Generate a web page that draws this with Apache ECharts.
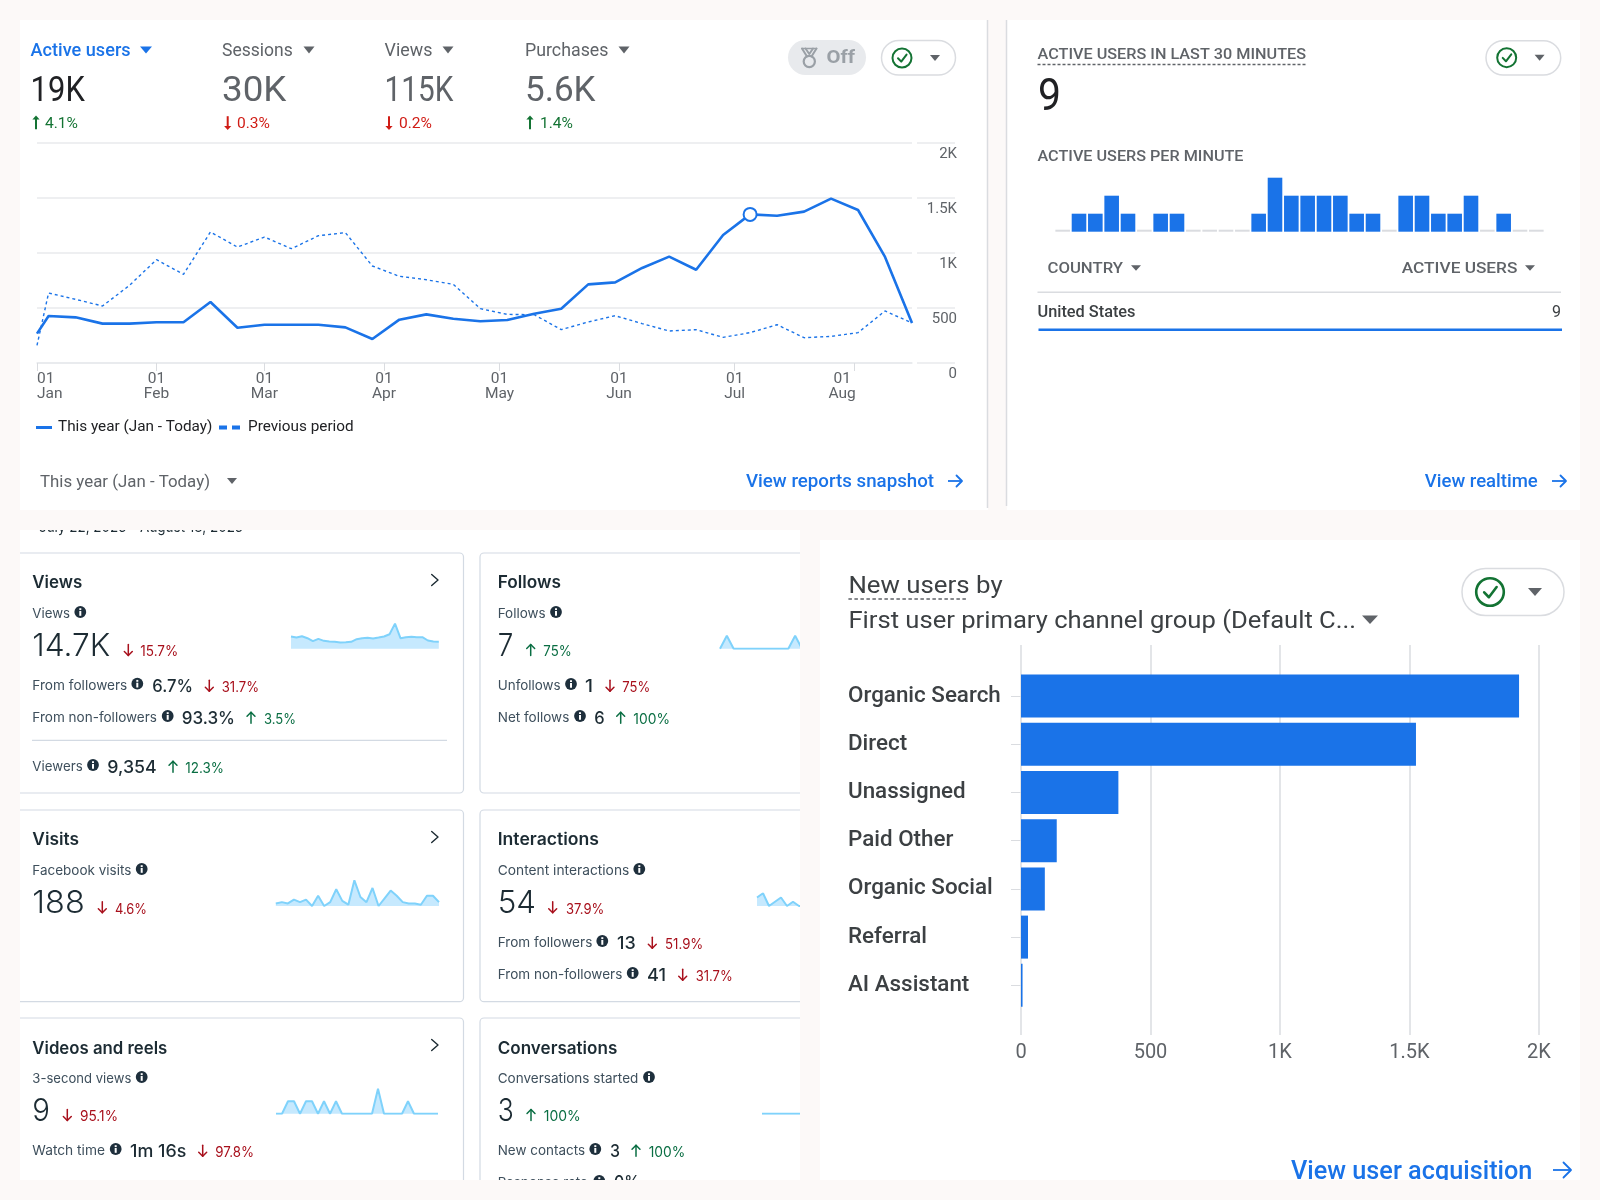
<!DOCTYPE html>
<html><head><meta charset="utf-8">
<style>html,body{margin:0;padding:0;background:#fcf9f8}#c{width:1600px;height:1200px}</style>
<script src="https://cdn.jsdelivr.net/npm/echarts@6/dist/echarts.min.js"></script>
</head><body><div id="c"></div>
<script>
// ---------- DATA ----------
const weekDates = ['2025-01-01','2025-01-04','2025-01-11','2025-01-18','2025-01-25','2025-02-01','2025-02-08','2025-02-15','2025-02-22','2025-03-01','2025-03-08','2025-03-15','2025-03-22','2025-03-29','2025-04-05','2025-04-12','2025-04-19','2025-04-26','2025-05-03','2025-05-10','2025-05-17','2025-05-24','2025-05-31','2025-06-07','2025-06-14','2025-06-21','2025-06-28','2025-07-05','2025-07-12','2025-07-19','2025-07-26','2025-08-02','2025-08-09','2025-08-16'];
const thisYear = [267,427,415,358,358,370,370,555,321,348,348,348,324,218,394,442,403,379,391,448,494,715,733,864,967,848,1164,1351,1339,1376,1494,1391,964,364];
const previousPeriod = [160,636,579,518,706,939,806,1191,1054,1145,1039,1157,1185,882,788,757,715,494,442,439,303,373,430,358,291,303,233,276,348,230,242,276,473,364];
const monthTicks = ['2025-01-01','2025-02-01','2025-03-01','2025-04-01','2025-05-01','2025-06-01','2025-07-01','2025-08-01'];
const monthDayLabels = ['01','01','01','01','01','01','01','01'];
const monthNames = ['Jan','Feb','Mar','Apr','May','Jun','Jul','Aug'];
const highlightDate = '2025-07-05';
const activeUsersPerMinute = [0,1,1,2,1,0,1,1,0,0,0,0,1,3,2,2,2,2,1,1,0,2,2,1,1,2,0,1,0,0];
const channels = ['Organic Search','Direct','Unassigned','Paid Other','Organic Social','Referral','AI Assistant'];
const newUsers = [1923,1525,376,138,92,27,6];
const viewsDaily = [648,595,665,560,403,525,420,385,368,333,350,368,508,560,578,543,595,648,770,1330,560,613,630,613,613,438,385,368];
const followsDaily = [0,1,0,0,0,0,0,0,0,0,0,1,0];
const visitsDaily = [2,3,2,5,3,5,0,8,0,3,13,4,1,20,7,3,14,0,6,12,8,3,2,2,1,8,8,3];
const interactionsDaily = [4,6,0,2,4,0,2,0,0];
const videoViewsDaily = [0,0,1,1,0,1,1,0,1,0,1,0,0,0,0,0,0,2,0,0,0,0,1,0,0,0,0,0];
const conversationsDaily = [0,0,0,0,0,0,0,0];
const kmLabel = v => v >= 1000 ? (v / 1000) + 'K' : String(v);
const dayNo = d => Date.parse(d + 'T00:00:00Z') / 86400000;

// ---------- STYLE ----------
const BLUE='#1a73e8', GREY='#5f6368', DARK='#202124', LINE='#e8eaed', LINE2='#dadce0', BG='#fcf9f8';
const G_UP='#137333', G_DN='#d01c15', M_UP='#0a6e43', M_DN='#a8101c', INK='#1c2b33', SUB='#3e4f5c', CARD='#d3dae3';
const SPK_L='#7fd2fb', SPK_F='#c6e9fe';
const RB='Roboto', IN='Inter';

// ---------- GRAPHIC HELPERS ----------
const gfx = [];
const mctx = document.createElement('canvas').getContext('2d');
function T(text,x,y,o={}){
  const size=o.size||14, weight=o.weight||400, fam=o.fam||RB, align=o.align||'left';
  const font=`${weight} ${size}px "${fam}", sans-serif`;
  const dy=o.dy===undefined?1+size*0.05:o.dy;
  let sx=1;
  if(o.w){ mctx.font=font; sx=o.w/mctx.measureText(text).width; }
  gfx.push({type:'text',x,y:y+dy,scaleX:sx,scaleY:1,silent:true,z:o.z||5,
    style:{text,x:0,y:0,font,fill:o.color||DARK,align,verticalAlign:'middle',textAlign:align,textVerticalAlign:'middle'}});
}
function R(x,y,w,h,fill,o={}){
  gfx.push({type:'rect',silent:true,z:o.z===undefined?-10:o.z,shape:{x,y,width:w,height:h,r:o.r||0},
    style:{fill:fill||'none',stroke:o.stroke||null,lineWidth:o.lw||1}});
}
function L(x1,y1,x2,y2,stroke,o={}){
  gfx.push({type:'line',silent:true,z:o.z||4,shape:{x1,y1,x2,y2},style:{stroke,lineWidth:o.lw||1,lineDash:o.dash||null}});
}
function P(points,stroke,o={}){
  gfx.push({type:'polyline',silent:true,z:o.z||5,shape:{points},style:{stroke,lineWidth:o.lw||1.5,fill:null,lineJoin:'round',lineCap:o.cap||'round'}});
}
function C(cx,cy,r,fill,o={}){
  gfx.push({type:'circle',silent:true,z:o.z||5,shape:{cx,cy,r},style:{fill:fill||'none',stroke:o.stroke||null,lineWidth:o.lw||1}});
}
function caret(cx,cy,w,h,color){
  gfx.push({type:'polygon',silent:true,z:5,shape:{points:[[cx-w/2,cy-h/2],[cx+w/2,cy-h/2],[cx,cy+h/2]]},style:{fill:color||GREY}});
}
function info(cx,cy){
  C(cx,cy,5.9,'#1e2f3c');
  gfx.push({type:'rect',silent:true,z:6,shape:{x:cx-1,y:cy-3.8,width:2,height:1.9},style:{fill:'#fff'}});
  gfx.push({type:'rect',silent:true,z:6,shape:{x:cx-1,y:cy-1,width:2,height:4.8},style:{fill:'#fff'}});
}
function deltaArrow(cx,cy,up,color,h,lw){
  const s=up?-1:1, hh=h/2, hw=h*0.36;
  P([[cx,cy-s*hh],[cx,cy+s*hh]],color,{lw});
  P([[cx-hw,cy+s*(hh-hw)],[cx,cy+s*hh],[cx+hw,cy+s*(hh-hw)]],color,{lw});
}
function gArrow(x,y,up,pct,xT,wT){
  const c=up?G_UP:G_DN, s=up?-1:1;
  P([[x,y-s*6.5],[x,y+s*5]],c,{lw:2,cap:'butt'});
  gfx.push({type:'polygon',silent:true,z:5,shape:{points:[[x-3.6,y+s*3.2],[x+3.6,y+s*3.2],[x,y+s*7.2]]},style:{fill:c}});
  T(pct,xT,y,{size:14.5,color:c,w:wT});
}
function pill(x,y,w,h,cx,cyy,r,caretX,cw,ch){
  R(x,y,w,h,'#fff',{stroke:LINE2,lw:1.5,r:h/2,z:3});
  C(cx,cyy,r,'none',{stroke:G_UP,lw:r>12?2.6:2});
  P([[cx-r*.42,cyy+r*.02],[cx-r*.08,cyy+r*.38],[cx+r*.48,cyy-r*.36]],G_UP,{lw:r>12?2.6:2});
  caret(caretX,cyy,cw,ch,GREY);
}
function rightArrow(x1,x2,y,h,color){
  P([[x1,y],[x2,y]],color,{lw:1.8,cap:'butt'});
  P([[x2-h,y-h],[x2,y],[x2-h,y+h]],color,{lw:1.8});
}
function chevron(x,y){ P([[x-3,y-5.5],[x+3.3,y],[x-3,y+5.5]],INK,{lw:1.4}); }

// ---------- PANELS ----------
R(20,20,968,490,'#fff');
R(1007,20,573,490,'#fff');
R(20,530,780,650,'#fff');
R(820,540,760,640,'#fff');
L(987.5,20,987.5,508,LINE2,{lw:1.5});
L(1006.5,20,1006.5,506,LINE2,{lw:1.5});

// ---------- TOP-LEFT KPI ----------
T('Active users',30.6,50,{size:17.5,color:BLUE,w:100,weight:500}); caret(146,50,12,7,BLUE);
T('Sessions',222,50,{size:17.5,color:GREY,w:70.7}); caret(309,50,11,7,GREY);
T('Views',384.6,50,{size:17.5,color:GREY,w:47.8}); caret(448,50,11,7,GREY);
T('Purchases',525,50,{size:17.5,color:GREY,w:83.4}); caret(624,50,11,7,GREY);
T('19K',30.6,89.3,{size:35,color:DARK,w:54.2});
T('30K',222,89.3,{size:35,color:GREY,w:64.4});
T('115K',384.6,89.3,{size:35,color:GREY,w:68.8});
T('5.6K',525,89.3,{size:35,color:GREY,w:70.6});
gArrow(36,122.7,true,'4.1%',45,33);
gArrow(227.7,122.7,false,'0.3%',237,33);
gArrow(389,122.7,false,'0.2%',399,33);
gArrow(530,122.7,true,'1.4%',540,33);
R(788,40,78,35,'#e8eaed',{r:17.5,z:3});
C(809.3,61.5,5.6,'none',{stroke:'#9aa0a6',lw:2.2});
P([[802,48.5],[807,56.5]],'#9aa0a6',{lw:2});
P([[816.5,48.5],[811.5,56.5]],'#9aa0a6',{lw:2});
P([[805.5,48.5],[809.3,54],[813,48.5]],'#9aa0a6',{lw:2});
P([[802,48.5],[816.5,48.5]],'#9aa0a6',{lw:1.6});
T('Off',826.5,56,{size:19,weight:700,color:'#9aa0a6',w:28.5});
pill(881.5,40.5,74,34.5,902,58,9.5,935,10,6);
T('This year (Jan - Today)',40,481,{size:17,color:GREY,w:170}); caret(232,481,10,6,GREY);
T('View reports snapshot',746,481,{size:18,weight:500,color:BLUE,w:188}); rightArrow(948,962,481,5.5,BLUE);

// ---------- REALTIME ----------
T('ACTIVE USERS IN LAST 30 MINUTES',1037.5,53,{size:15,weight:500,color:GREY,w:268.6});
L(1037.5,64.5,1306,64.5,GREY,{lw:1.3,dash:[3,2]});
pill(1486,40.7,74.7,34.3,1506.7,57.7,9.5,1539.6,10,6);
T('9',1038,95,{size:45,color:DARK,w:23});
T('ACTIVE USERS PER MINUTE',1037.5,155,{size:15,weight:500,color:GREY,w:206});
T('COUNTRY',1047.5,267.7,{size:15,weight:500,color:GREY,w:75.5}); caret(1136,268,10,5.5,GREY);
T('ACTIVE USERS',1401.8,267.7,{size:15,weight:500,color:GREY,w:115.6}); caret(1530,268,10,5.5,GREY);
L(1037.5,292.3,1561,292.3,LINE2,{lw:1.5});
T('United States',1037.5,310.7,{size:16,weight:500,color:'#3c4043',w:98});
T('9',1561,310.7,{size:16,color:'#3c4043',align:'right'});
L(1038.5,329.7,1562,329.7,BLUE,{lw:2.4});
T('View realtime',1424.8,481,{size:18,weight:500,color:BLUE,w:112.9}); rightArrow(1552,1566,481,5.5,BLUE);

// ---------- SOCIAL CARDS ----------
T('July 22, 2025 - August 18, 2025',39,527.5,{size:15,fam:IN,color:INK,w:204,dy:0});
[[553,240],[810,191.7],[1018,240]].forEach(([y,h])=>{
  R(8,y,455.5,h,null,{stroke:CARD,lw:1.2,r:4,z:2});
  R(480,y,330,h,null,{stroke:CARD,lw:1.2,r:4,z:2});
});
L(32,740.3,447,740.3,CARD,{lw:1.2});
const tit=(s,x,y,w)=>T(s,x,y,{size:17,weight:600,fam:IN,color:INK,w,dy:1.8});
const sub=(s,x,y,w)=>T(s,x,y,{size:13.5,fam:IN,color:SUB,w,dy:1});
const big=(s,x,y,w)=>T(s,x,y,{size:31,weight:300,fam:IN,color:INK,w,dy:2});
const mid=(s,x,y,w)=>T(s,x,y,{size:17.5,weight:500,fam:IN,color:INK,w,dy:1.2});
const dlt=(up,ax,s,x,y,w)=>{const c=up?M_UP:M_DN; deltaArrow(ax,y-1,up,c,11,1.5); T(s,x,y,{size:14,fam:IN,color:c,w,dy:1});};
// Views
tit('Views',32.3,581.3,50); chevron(434.7,580);
sub('Views',32.3,612.7,37.7); info(80.3,612);
big('14.7K',32.3,644.3,78); dlt(false,128.3,'15.7%',140.3,651,38);
sub('From followers',32.3,685,95); info(137.3,683.7); mid('6.7%',152.3,685.7,40.7); dlt(false,209.3,'31.7%',221.7,686.7,37.3);
sub('From non-followers',32.3,717,124.7); info(167.7,716); mid('93.3%',181.7,717.3,53.3); dlt(true,251,'3.5%',264,718.7,32);
sub('Viewers',32.3,766,50.4); info(93,765); mid('9,354',107.3,766.7,49.4); dlt(true,173,'12.3%',185.3,767.7,38.7);
// Visits
tit('Visits',32.3,838.3,46.7); chevron(434.7,837);
sub('Facebook visits',32.3,869.7,99); info(141.7,869);
big('188',32.3,901.7,52.4); dlt(false,102.3,'4.6%',115,908.3,32);
// Videos
tit('Videos and reels',32.3,1046.7,135); chevron(434.7,1045);
sub('3-second views',32.3,1077.7,99); info(141.7,1077);
big('9',32.3,1109.3,17.7); dlt(false,67.3,'95.1%',80,1116,38);
sub('Watch time',32.3,1150,72.7); info(115.7,1149); mid('1m 16s',130,1150.3,56.3); dlt(false,202.7,'97.8%',215.3,1151.7,38.7);
// Follows
tit('Follows',497.7,581.3,63.3);
sub('Follows',497.7,612.7,48); info(556,612);
big('7',497.7,644.3,15.6); dlt(true,530.7,'75%',543.3,651,28.4);
sub('Unfollows',497.7,685,63); info(571,684); mid('1',585,686,8); dlt(false,610,'75%',622.3,686.7,28);
sub('Net follows',497.7,717,71.6); info(580,716); mid('6',594.3,717.3,10.4); dlt(true,620.7,'100%',633.3,718.7,36.7);
// Interactions
tit('Interactions',497.7,838.3,101.3);
sub('Content interactions',497.7,869.7,131.6); info(639.3,869);
big('54',497.7,901.7,38.3); dlt(false,552.7,'37.9%',566,908.3,38.3);
sub('From followers',497.7,941.7,94.6); info(602.3,941); mid('13',617,942.3,18.7); dlt(false,652.3,'51.9%',665,943.7,38.3);
sub('From non-followers',497.7,973.7,124.6); info(632.7,973); mid('41',647,974.3,19); dlt(false,682.7,'31.7%',695.7,975.7,37);
// Conversations
tit('Conversations',497.7,1046.7,119.6);
sub('Conversations started',497.7,1077.7,140.6); info(649,1077);
big('3',497.7,1109.3,16); dlt(true,531,'100%',543.7,1116,37);
sub('New contacts',497.7,1150,87.3); info(595.3,1149); mid('3',610,1150.3,10); dlt(true,636,'100%',648.7,1151.7,36.6);
sub('Response rate',497.7,1182,90); info(599.3,1181); mid('0%',614,1182,26);

// ---------- NEW USERS HEADER ----------
T('New users by',848.4,584.7,{size:24,color:'#3c4043',w:154.2});
L(848.4,599,968,599,GREY,{lw:1.5,dash:[3.5,2.5]});
T('First user primary channel group (Default C...',848.4,619.7,{size:24,color:'#3c4043',w:507.6}); caret(1370,619.7,16,8.5,GREY);
pill(1462,568.5,102,47,1490,592,13.8,1535,14,8);
T('View user acquisition',1291,1170,{size:25,weight:500,color:BLUE,w:241.4}); rightArrow(1553,1571,1170,7.5,BLUE);

// Bands that crop the screenshot pieces
const Z=100;
R(0,0,20,1200,BG,{z:Z});
R(20,510,1560,20,BG,{z:Z});
R(800,530,20,670,BG,{z:Z});
R(0,1180,1600,20,BG,{z:Z});
R(1580,0,20,1200,BG,{z:Z});

// ---------- ECHARTS STRUCTURE ----------
const grid=[], xAxis=[], yAxis=[], series=[];
function addGrid(rect,x,y){
  const i=grid.length;
  grid.push(Object.assign({containLabel:false},rect));
  xAxis.push(Object.assign({gridIndex:i},x));
  yAxis.push(Object.assign({gridIndex:i},y));
  return i;
}
const monthDays=monthTicks.map(dayNo);
const lastMonth=monthDays.length-1;
// main line chart (x = day number)
const gMain=addGrid({left:37,top:143,width:875,height:220},
 {type:'value',min:dayNo(weekDates[0]),max:dayNo(weekDates[weekDates.length-1]),
  axisLine:{show:true,onZero:false,lineStyle:{color:LINE,width:1.5}},
  axisTick:{show:true,customValues:monthDays,length:8,lineStyle:{color:LINE2}},
  splitLine:{show:false},
  axisLabel:{customValues:monthDays,alignMinLabel:'left',
    formatter:(v)=>{const i=monthDays.indexOf(v), s=i===lastMonth?'end':'m';
      return `{${s}|${monthDayLabels[i]}}\n{${s}|${monthNames[i]}}`;},
    rich:{m:{color:GREY,fontSize:15.5,fontFamily:RB,lineHeight:15.5},
          end:{color:GREY,fontSize:15.5,fontFamily:RB,lineHeight:15.5,padding:[0,24,0,0]}},
    margin:8}},
 {type:'value',min:0,max:2000,interval:500,axisLine:{show:false},axisTick:{show:false},axisLabel:{show:false},
  splitLine:{show:true,lineStyle:{color:LINE,width:1.5}}});
// right-hand scale of main chart
addGrid({left:917,top:143,width:38,height:220},
 {type:'value',min:0,max:1,show:false},
 {type:'value',position:'right',min:0,max:2000,interval:500,axisLine:{show:false},axisTick:{show:false},
  splitLine:{show:true,lineStyle:{color:LINE,width:1.5}},
  axisLabel:{inside:true,margin:-2,formatter:kmLabel,color:GREY,fontSize:15,fontFamily:RB,verticalAlign:'top',padding:[4,0,0,0]}});
series.push({name:'Previous period',type:'line',xAxisIndex:gMain,yAxisIndex:gMain,data:weekDates.map((d,i)=>[dayNo(d),previousPeriod[i]]),
  showSymbol:false,symbol:'none',lineStyle:{color:BLUE,width:1.4,type:[3,3]},itemStyle:{color:BLUE},z:3});
const hi=weekDates.indexOf(highlightDate);
series.push({name:'This year (Jan - Today)',type:'line',xAxisIndex:gMain,yAxisIndex:gMain,data:weekDates.map((d,i)=>[dayNo(d),thisYear[i]]),
  showSymbol:false,symbol:'none',lineStyle:{color:BLUE,width:2.6},itemStyle:{color:BLUE},z:4,
  markPoint:{silent:true,symbol:'circle',symbolSize:13,label:{show:false},itemStyle:{color:'#fff',borderColor:BLUE,borderWidth:2},
    data:[{coord:[dayNo(highlightDate),thisYear[hi]]}]}});

// per-minute bars
const gMin=addGrid({left:1054.5,top:177.7,width:490,height:54},
 {type:'category',data:activeUsersPerMinute.map((_,i)=>i+1),show:false},
 {type:'value',min:0,max:3,show:false});
series.push({name:'Active users per minute',type:'bar',xAxisIndex:gMin,yAxisIndex:gMin,data:activeUsersPerMinute,barWidth:14.6,barMinHeight:2,
  itemStyle:{color:p=>p.value===0?LINE2:BLUE}});

// sparklines
function spark(name,vals,left,top,width,height,ymax,xmax){
  const g=addGrid({left,top,width,height},{type:'value',min:0,max:xmax,show:false},{type:'value',min:0,max:ymax,show:false});
  series.push({name,type:'line',xAxisIndex:g,yAxisIndex:g,data:vals.map((v,i)=>[i,v]),symbol:'none',showSymbol:false,
    lineStyle:{color:SPK_L,width:2},areaStyle:{color:SPK_F,opacity:1},z:3});
}
spark('Views daily',viewsDaily,291,623.6,147.8,25.2,1330,27);
spark('Follows daily',followsDaily,720,635.7,80,13,1,11.71);
spark('Visits daily',visitsDaily,275.8,880.3,163.2,25.7,20,27);
spark('Content interactions daily',interactionsDaily,757,893.3,43,12.7,6,7.17);
spark('3-second views daily',videoViewsDaily,276,1088.7,162,25,2,27);
spark('Conversations started daily',conversationsDaily,762,1093.7,38,20,1,6.33);

// new users chart: scale grid + bars grid, sharing one pixel range
addGrid({left:1021,top:645,width:518,height:390},
 {type:'value',min:0,max:2000,interval:500,axisLine:{show:false},axisTick:{show:false},
  splitLine:{show:true,lineStyle:{color:LINE2,width:1.5}},
  axisLabel:{formatter:kmLabel,color:GREY,fontSize:20,fontFamily:RB,margin:8}},
 {type:'value',min:0,max:1,show:false});
const gBars=addGrid({left:1021,top:672,width:518,height:337.4},
 {type:'value',min:0,max:2000,show:false},
 {type:'category',inverse:true,data:channels,axisLine:{show:false},
  axisTick:{show:true,alignWithLabel:true,length:10,lineStyle:{color:LINE2}},
  axisLabel:{align:'left',margin:173,color:'#3c4043',fontSize:22.4,fontWeight:500,fontFamily:RB,padding:[2,0,0,0]}});
series.push({name:'New users',type:'bar',xAxisIndex:gBars,yAxisIndex:gBars,data:newUsers,barWidth:43,itemStyle:{color:BLUE},z:3});

const chart=echarts.init(document.getElementById('c'),null,{renderer:'canvas',width:1600,height:1200});
chart.setOption({
  animation:false,
  backgroundColor:BG,
  textStyle:{fontFamily:RB},
  tooltip:{show:false},
  legend:[
    {left:36,top:420,padding:0,itemWidth:16,itemHeight:3,itemGap:0,icon:'rect',data:['This year (Jan - Today)'],selectedMode:false,
      textStyle:{color:DARK,fontSize:15.3,fontFamily:RB,padding:[0,0,0,1]}},
    {left:219,top:420,padding:0,itemWidth:21,itemHeight:4,icon:'path://M0 0H8V4H0ZM13 0H21V4H13Z',data:['Previous period'],selectedMode:false,
      textStyle:{color:DARK,fontSize:15.3,fontFamily:RB,padding:[0,0,0,3]}}
  ],
  grid,xAxis,yAxis,series,
  graphic:{elements:gfx}
});
</script></body></html>
